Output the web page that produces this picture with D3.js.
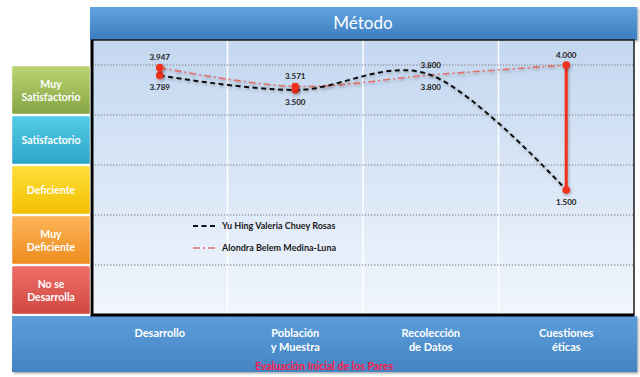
<!DOCTYPE html>
<html>
<head>
<meta charset="utf-8">
<script src="https://cdn.jsdelivr.net/npm/d3@7"></script>
<style>
  body { margin: 0; background: #fff; }
  svg { display: block; font-family: Lato, "Open Sans", sans-serif; }
</style>
</head>
<body>
<div id="chart"></div>
<script>
// Chart data
const title = 'Método';
const categories = ['Desarrollo', 'Población\ny Muestra', 'Recolección\nde Datos', 'Cuestiones\néticas'];
const seriesNames = ['Yu Hing Valeria Chuey Rosas', 'Alondra Belem Medina-Luna'];
const valuesChuey = [3.789, 3.500, 3.800, 1.500];
const valuesMedina = [3.947, 3.571, 3.800, 4.000];
const levelLabels = ['Muy\nSatisfactorio', 'Satisfactorio', 'Deficiente', 'Muy\nDeficiente', 'No se\nDesarrolla'];
const levelTops = [4, 3, 2, 1, 0];
const gridValues = [4, 3, 2, 1, 0];
const xTitle = 'Evaluación Inicial de los Pares';

function renderChart() {
    const width = 640, height = 377;
    const plot = { left: 92, right: 634, top: 40, bottom: 315 };

    const svg = d3.select('#chart').append('svg')
        .attr('width', width)
        .attr('height', height);

    const defs = svg.append('defs');

    // vertical gradient helper
    function grad(id, top, bottom) {
        const g = defs.append('linearGradient').attr('id', id)
            .attr('x1', 0).attr('y1', 0).attr('x2', 0).attr('y2', 1);
        g.append('stop').attr('offset', '0%').attr('stop-color', top);
        g.append('stop').attr('offset', '100%').attr('stop-color', bottom);
    }
    grad('g-head', '#62a3df', '#3b7dc0');
    grad('g-foot', '#5c9edb', '#4683c2');
    grad('g-plot', '#c3d7f0', '#f1f6fd');
    const levelColors = [
        ['#bcd572', '#86a445'],
        ['#52cde9', '#2fa5c6'],
        ['#ffe03a', '#f2bf00'],
        ['#fcb458', '#ee8d1e'],
        ['#ef7068', '#cf4842']
    ];
    levelColors.forEach((c, i) => grad('g-lvl' + i, c[0], c[1]));

    const shadow = defs.append('filter').attr('id', 'shadow')
        .attr('x', '-20%').attr('y', '-20%').attr('width', '140%').attr('height', '140%');
    shadow.append('feDropShadow').attr('dx', 1.5).attr('dy', 1.5)
        .attr('stdDeviation', 1.2).attr('flood-color', '#000').attr('flood-opacity', 0.35);

    // user-space filter so zero-width vertical lines still render
    const glow = defs.append('filter').attr('id', 'glow')
        .attr('filterUnits', 'userSpaceOnUse')
        .attr('x', 0).attr('y', 0).attr('width', width).attr('height', height);
    glow.append('feDropShadow').attr('dx', 1).attr('dy', 1.5)
        .attr('stdDeviation', 1.5).attr('flood-color', '#000').attr('flood-opacity', 0.3);

    // Scales
    const x = d3.scaleBand().domain(categories).range([plot.left, plot.right]);
    const y = d3.scaleLinear().domain([-1, 4.5]).range([plot.bottom, plot.top]);
    const cx = d => x(d) + x.bandwidth() / 2;

    // Header bar
    svg.append('rect')
        .attr('x', 90).attr('y', 7).attr('width', 547).attr('height', 33)
        .attr('fill', 'url(#g-head)').attr('filter', 'url(#shadow)');
    svg.append('text')
        .attr('x', (plot.left + plot.right) / 2).attr('y', 29)
        .attr('text-anchor', 'middle')
        .style('font-size', '17px').style('fill', '#fff')
        .text(title);

    // Footer bar
    svg.append('rect')
        .attr('x', 12).attr('y', plot.bottom + 1).attr('width', 625).attr('height', 56)
        .attr('fill', 'url(#g-foot)').attr('filter', 'url(#shadow)');

    // Plot background
    svg.append('rect')
        .attr('x', plot.left).attr('y', plot.top)
        .attr('width', plot.right - plot.left).attr('height', plot.bottom - plot.top)
        .attr('fill', 'url(#g-plot)');

    // Vertical white gridlines at band edges
    svg.append('g').selectAll('line')
        .data(categories.slice(1))
        .enter().append('line')
        .attr('x1', d => x(d)).attr('x2', d => x(d))
        .attr('y1', plot.top).attr('y2', plot.bottom)
        .attr('stroke', '#fff').attr('stroke-width', 1.5);

    // Horizontal dotted gridlines
    svg.append('g').selectAll('line')
        .data(gridValues)
        .enter().append('line')
        .attr('x1', plot.left).attr('x2', plot.right)
        .attr('y1', d => y(d)).attr('y2', d => y(d))
        .attr('stroke', '#9a9ea6').attr('stroke-width', 1.3)
        .attr('stroke-dasharray', '1.3,1.7');

    // Plot frame
    svg.append('rect')
        .attr('x', plot.left).attr('y', plot.top)
        .attr('width', plot.right - plot.left).attr('height', plot.bottom - plot.top)
        .attr('fill', 'none').attr('stroke', '#1a1a1a').attr('stroke-width', 1.5);
    svg.append('path')
        .attr('d', `M${plot.left},${plot.top}V${plot.bottom}H${plot.right}`)
        .attr('fill', 'none').attr('stroke', '#000').attr('stroke-width', 3);

    // Level boxes on the left
    const levels = svg.append('g');
    levelLabels.forEach((label, i) => {
        const top = y(levelTops[i]) + 1;
        const bottom = y(levelTops[i] - 1);
        levels.append('rect')
            .attr('x', 12).attr('y', top).attr('width', 78).attr('height', bottom - top - 1)
            .attr('rx', 1.5)
            .attr('fill', `url(#g-lvl${i})`)
            .attr('stroke', '#fff').attr('stroke-opacity', 0.4);
        const lines = label.split('\n');
        const mid = (top + bottom) / 2;
        lines.forEach((t, j) => {
            levels.append('text')
                .attr('x', 51)
                .attr('y', mid + (j - (lines.length - 1) / 2) * 13)
                .attr('dy', '0.35em')
                .attr('text-anchor', 'middle')
                .style('font-size', '10.5px').style('font-weight', 'bold')
                .style('fill', '#fff')
                .text(t);
        });
    });

    // Category labels
    const catG = svg.append('g');
    categories.forEach(c => {
        c.split('\n').forEach((t, j) => {
            catG.append('text')
                .attr('x', cx(c)).attr('y', 333 + j * 14)
                .attr('dy', '0.35em')
                .attr('text-anchor', 'middle')
                .style('font-size', '11px').style('font-weight', 'bold')
                .style('fill', '#fff')
                .text(t);
        });
    });
    svg.append('text')
        .attr('x', 324).attr('y', 366).attr('dy', '0.35em')
        .attr('text-anchor', 'middle')
        .style('font-size', '10.5px').style('font-weight', 'bold')
        .style('fill', '#ff1a48')
        .text(xTitle);

    // Lines
    const line = d3.line()
        .x((d, i) => cx(categories[i]))
        .y(d => y(d))
        .curve(d3.curveCatmullRom.alpha(0));

    const chart = svg.append('g');

    chart.append('path')
        .datum(valuesMedina)
        .attr('fill', 'none')
        .attr('stroke', '#e0706a').attr('stroke-width', 1.6)
        .attr('stroke-dasharray', '7,3,2,3')
        .attr('filter', 'url(#glow)')
        .attr('d', line);

    chart.append('path')
        .datum(valuesChuey)
        .attr('fill', 'none')
        .attr('stroke', '#111').attr('stroke-width', 2)
        .attr('stroke-dasharray', '5,3.5')
        .attr('filter', 'url(#glow)')
        .attr('d', line);

    // High-low lines and markers
    categories.forEach((c, i) => {
        const a = valuesChuey[i], b = valuesMedina[i];
        if (a === b) return;
        chart.append('line')
            .attr('x1', cx(c)).attr('x2', cx(c))
            .attr('y1', y(a)).attr('y2', y(b))
            .attr('stroke', '#f0301c').attr('stroke-width', 3)
            .attr('filter', 'url(#glow)');
        [a, b].forEach(v => {
            chart.append('circle')
                .attr('cx', cx(c)).attr('cy', y(v))
                .attr('r', 3.8)
                .attr('fill', '#f0301c')
                .attr('filter', 'url(#glow)');
        });
    });

    // Data labels
    const labels = svg.append('g');
    categories.forEach((c, i) => {
        const a = valuesChuey[i], b = valuesMedina[i];
        const medinaAbove = b > a;
        [[b, medinaAbove], [a, !medinaAbove]].forEach(([v, above]) => {
            labels.append('text')
                .attr('x', cx(c))
                .attr('y', y(v) + (above ? -10 : 12))
                .attr('dy', '0.35em')
                .attr('text-anchor', 'middle')
                .style('font-size', '8px').style('font-weight', 'bold')
                .style('fill', '#222')
                .text(v.toFixed(3));
        });
    });

    // Legend
    const legend = svg.append('g');
    const legendItems = [
        { name: seriesNames[0], color: '#111', dash: '5,3.5', w: 2, y: 226 },
        { name: seriesNames[1], color: '#e0706a', dash: '7,3,2,3', w: 1.6, y: 248 }
    ];
    legendItems.forEach(item => {
        legend.append('line')
            .attr('x1', 193).attr('x2', 218)
            .attr('y1', item.y).attr('y2', item.y)
            .attr('stroke', item.color).attr('stroke-width', item.w)
            .attr('stroke-dasharray', item.dash);
        legend.append('text')
            .attr('x', 222).attr('y', item.y).attr('dy', '0.35em')
            .style('font-size', '9px').style('font-weight', 'bold')
            .style('fill', '#1a1a1a')
            .text(item.name);
    });
}

renderChart();
</script>
</body>
</html>
